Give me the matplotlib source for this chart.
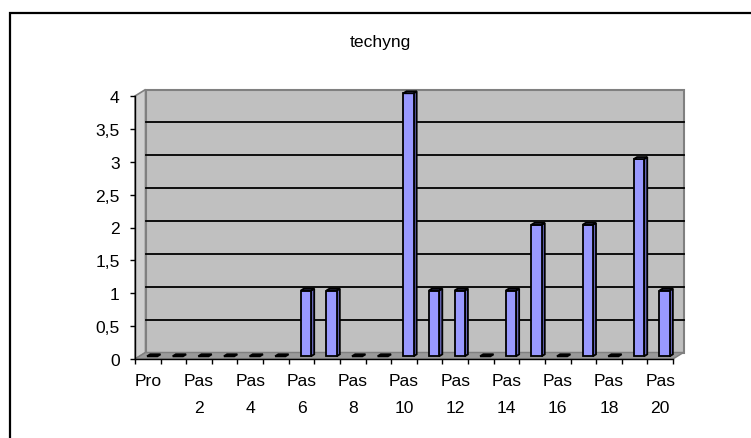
import matplotlib
matplotlib.use("Agg")
import matplotlib.pyplot as plt
import matplotlib.transforms as mtransforms
from matplotlib.patches import Polygon, Rectangle
from matplotlib.lines import Line2D

# ---- data ----
categories = ["Pro"] + [f"Pas {i}" for i in range(1, 21)]
values = [0, 0, 0, 0, 0, 0, 1, 1, 0, 0, 4, 1, 1, 0, 1, 2, 0, 2, 0, 3, 1]
y_ticks = [0, 0.5, 1, 1.5, 2, 2.5, 3, 3.5, 4]
y_tick_labels = ["0", "0,5", "1", "1,5", "2", "2,5", "3", "3,5", "4"]
title = "techyng"

plt.rcParams['font.family'] = ['Liberation Sans', 'DejaVu Sans']
FS = 12.6

W, H = 751, 439
fig = plt.figure(figsize=(W / 100, H / 100), dpi=100)
fig.patch.set_facecolor("white")

# outer chart-area frame (extends beyond the image at right/bottom)
fig.patches.append(Rectangle((10 / W, -0.05), 1.2, 1 - 14 / H + 0.05,
                             transform=fig.transFigure, fill=False,
                             ec="black", lw=1.6, zorder=0))

ax = fig.add_axes([135 / W, (H - 360) / H, (673 - 135) / W, (360 - 97) / H])
n = len(categories)
ax.set_xlim(-0.5, n - 0.5)
ax.set_ylim(0, 4)
ax.patch.set_visible(False)

DX, DY = 10.5, 6.5  # depth vector in pixels
ident = mtransforms.IdentityTransform()


def P(x, y, d):
    px, py = ax.transData.transform((x, y))
    return (px + d * DX, py + d * DY)


def poly(pts, fc, ec, lw, z):
    ax.add_patch(Polygon(pts, closed=True, fc=fc, ec=ec, lw=lw,
                         transform=ident, clip_on=False, zorder=z,
                         joinstyle="miter"))


x0, x1 = -0.5, n - 0.5
ymax = 4
# back wall
poly([P(x0, 0, 1), P(x1, 0, 1), P(x1, ymax, 1), P(x0, ymax, 1)],
     "#C0C0C0", "#808080", 1.5, 0.1)
# left side wall
poly([P(x0, 0, 0), P(x0, 0, 1), P(x0, ymax, 1), P(x0, ymax, 0)],
     "#CFCFCF", "#808080", 1.2, 0.2)
# floor
poly([P(x0, 0, 0), P(x1, 0, 0), P(x1, 0, 1), P(x0, 0, 1)],
     "#9A9A9A", "#808080", 1.0, 0.3)

# gridlines on back wall
for yv in y_ticks[1:-1]:
    a, b = P(x0, yv, 1), P(x1, yv, 1)
    ax.add_line(Line2D([a[0], b[0]], [a[1], b[1]], color="black", lw=1.3,
                       transform=ident, clip_on=False, zorder=0.5))

# 3D bars
hw = 0.2
d0, d1 = 0.42, 0.72
for i, v in enumerate(values):
    front = [P(i - hw, 0, d0), P(i + hw, 0, d0), P(i + hw, v, d0), P(i - hw, v, d0)]
    side = [P(i + hw, 0, d0), P(i + hw, 0, d1), P(i + hw, v, d1), P(i + hw, v, d0)]
    top = [P(i - hw, v, d0), P(i + hw, v, d0), P(i + hw, v, d1), P(i - hw, v, d1)]
    if v > 0:
        poly(side, "#6666B8", "black", 1.3, 2)
        poly(front, "#9999FF", "black", 1.3, 2.1)
        poly(top, "#9999FF", "black", 1.3, 2.2)
    else:
        poly(top, "black", "black", 1.4, 2.2)

# axes styling
for s in ("top", "right"):
    ax.spines[s].set_visible(False)
for s in ("left", "bottom"):
    ax.spines[s].set_color("black")
    ax.spines[s].set_linewidth(1.0)
    ax.spines[s].set_zorder(3)

ax.set_yticks(y_ticks)
ax.set_yticklabels(y_tick_labels)
ax.tick_params(axis="y", direction="out", length=3.6, width=1, pad=7.5,
               labelsize=FS, colors="black")

ax.set_xticks([i - 0.5 for i in range(n + 1)])
ax.set_xticklabels([])
ax.tick_params(axis="x", which="major", direction="out", length=3.6, width=1)
ax.set_xticks(list(range(n)), minor=True)
xlabels = [c.replace(" ", "\n") if i % 2 == 0 else "" for i, c in enumerate(categories)]
ax.set_xticklabels(xlabels, minor=True, linespacing=2.05)
ax.tick_params(axis="x", which="minor", length=0, pad=10, labelsize=FS)

fig.text(380 / W, 1 - 42 / H, title, ha="center", va="center", fontsize=FS)

fig.savefig("out.png", dpi=100)
